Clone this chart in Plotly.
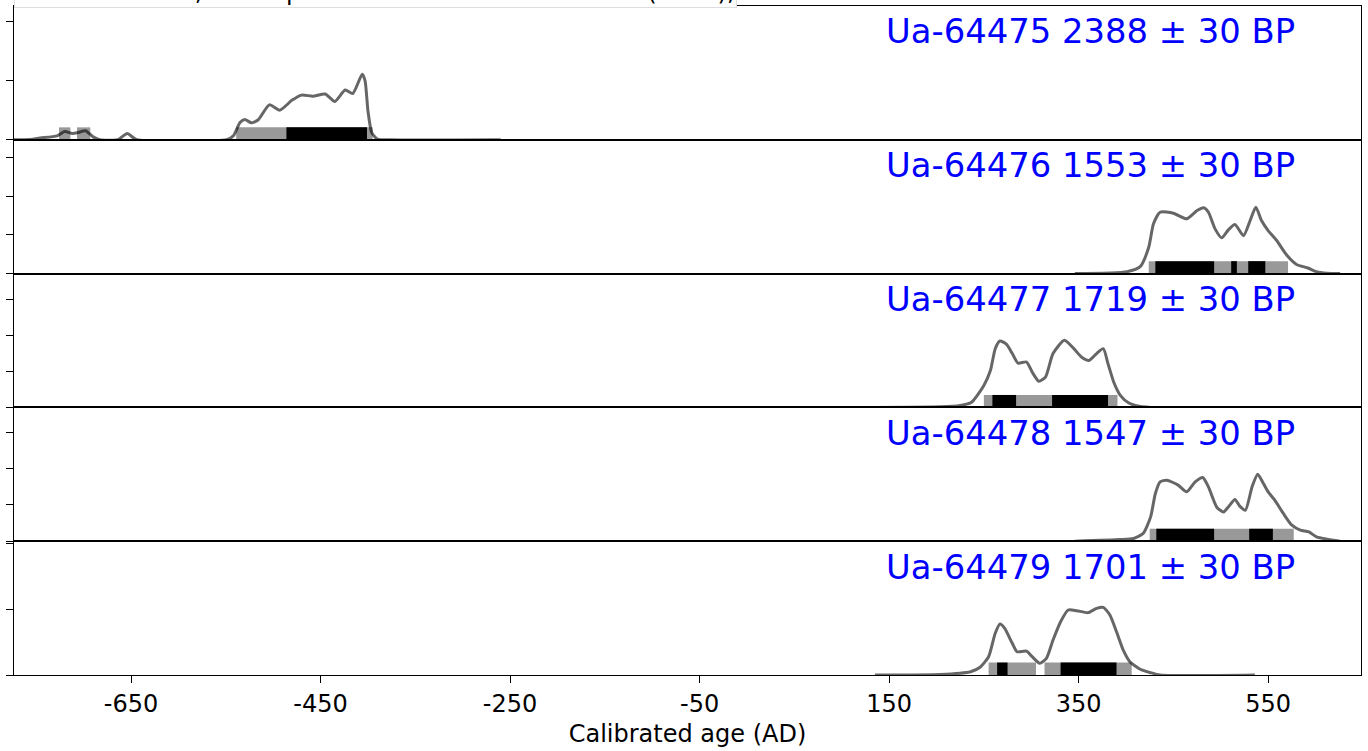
import plotly.graph_objects as go
from plotly.subplots import make_subplots

# ---- calibrated age distributions (calendar year AD, probability density) ----
LABELS = [
    "Ua-64475 2388 ± 30 BP",
    "Ua-64476 1553 ± 30 BP",
    "Ua-64477 1719 ± 30 BP",
    "Ua-64478 1547 ± 30 BP",
    "Ua-64479 1701 ± 30 BP",
]

ua64475_years = [-800, -773, -757, -746, -728, -720, -712, -706, -698, -690, -683, -664,
                 -654, -644, -549, -542, -535, -530, -523, -516, -504, -493, -480, -470,
                 -458, -445, -435, -424, -416, -406, -403, -400, -396, -390, -377, -260]
ua64475_density = [0, 0, 0.00002, 0.00012, 0.00027, 0.00056, 0.00043, 0.00049, 0.00061, 0.0002,
                   0, 0, 0.00043, 0, 0, 0.00027, 0.00117, 0.00138, 0.00115, 0.00134, 0.00237,
                   0.00201, 0.00269, 0.00303, 0.00296, 0.0031, 0.0026, 0.00337, 0.00314, 0.00445,
                   0.004, 0.00197, 0.00049, 0.00005, 0, 0]
ua64475_hpd95 = [(-726, -714), (-707, -693), (-539, -395)]
ua64475_hpd68 = [(-486, -401)]

ua64476_years = [346, 401, 415, 424, 429, 436, 450, 464, 475, 482, 487, 494, 501, 508,
                 515, 524, 531, 537, 543, 550, 559, 570, 580, 592, 601, 612, 626]
ua64476_density = [0, 0.0001, 0.00036, 0.00136, 0.00257, 0.00317, 0.00312, 0.00283, 0.00326,
                   0.0034, 0.00317, 0.00231, 0.00185, 0.00226, 0.00253, 0.00196, 0.00274,
                   0.00343, 0.00274, 0.00222, 0.00171, 0.00093, 0.00047, 0.00029, 0.0001,
                   0.00002, 0]
ua64476_hpd95 = [(424, 571)]
ua64476_hpd68 = [(431, 493), (511, 517), (529, 547)]

ua64477_years = [135, 204, 225, 237, 250, 257, 262, 267, 274, 280, 286, 295, 301, 308, 315,
                 323, 335, 345, 353, 361, 369, 376, 381, 387, 394, 403, 411, 426, 531]
ua64477_density = [0, 0.00003, 0.00011, 0.00029, 0.00122, 0.00206, 0.00326, 0.00369, 0.0035,
                   0.00299, 0.00246, 0.00252, 0.00196, 0.00145, 0.00168, 0.00299, 0.00373,
                   0.00326, 0.0028, 0.00261, 0.00299, 0.00326, 0.00243, 0.00141, 0.00067,
                   0.00024, 0.00009, 0, 0]
ua64477_hpd95 = [(250, 391)]
ua64477_hpd68 = [(259, 284), (322, 381)]

ua64478_years = [346, 394, 408, 418, 426, 431, 436, 443, 455, 464, 473, 481, 487, 496, 503, 508,
                 515, 520, 526, 533, 539, 545, 550, 557, 566, 575, 584, 593, 601, 612, 626]
ua64478_density = [0, 0.00009, 0.00015, 0.00042, 0.00134, 0.00263, 0.00327, 0.00336, 0.00309,
                   0.00272, 0.00327, 0.00351, 0.00299, 0.00186, 0.00161, 0.00189, 0.0023,
                   0.00193, 0.00171, 0.00299, 0.00369, 0.00318, 0.00272, 0.00226, 0.00153,
                   0.00088, 0.00061, 0.00051, 0.00024, 0.00011, 0]
ua64478_hpd95 = [(425, 577)]
ua64478_hpd68 = [(432, 493), (530, 555)]

ua64479_years = [135, 204, 236, 246, 255, 262, 267, 272, 280, 285, 295, 301, 309, 316, 323,
                 331, 339, 348, 360, 369, 376, 383, 390, 397, 404, 415, 426, 436, 536]
ua64479_density = [0, 0.00003, 0.0002, 0.00047, 0.00111, 0.00253, 0.00309, 0.00283, 0.00192,
                   0.00141, 0.00145, 0.00111, 0.00071, 0.00101, 0.00212, 0.00323, 0.00394,
                   0.0039, 0.00378, 0.00404, 0.0041, 0.00364, 0.00262, 0.00152, 0.00081,
                   0.00035, 0.00014, 0, 0]
ua64479_hpd95 = [(255, 305), (314, 406)]
ua64479_hpd68 = [(264, 275), (331, 390)]

# per-panel density axis: tick step and upper limit
Y_DTICK = [0.004, 0.002, 0.002, 0.002, 0.004]
Y_MAX = [0.00907, 0.00691, 0.00743, 0.00737, 0.00811]

X_RANGE = [-773.5, 648]
X_TICKS = [-650, -450, -250, -50, 150, 350, 550]
X_TICKTEXT = ["-650", "-450", "-250", "-50", "150", "350", "550"]

TITLE = "IOSACal v0.4.1, Atmospheric data from Reimer et al (2013);"

samples = [
    (ua64475_years, ua64475_density, ua64475_hpd95, ua64475_hpd68),
    (ua64476_years, ua64476_density, ua64476_hpd95, ua64476_hpd68),
    (ua64477_years, ua64477_density, ua64477_hpd95, ua64477_hpd68),
    (ua64478_years, ua64478_density, ua64478_hpd95, ua64478_hpd68),
    (ua64479_years, ua64479_density, ua64479_hpd95, ua64479_hpd68),
]

FONT = "DejaVu Sans"
BAR_H = 0.093  # fraction of panel height used by the HPD bars

fig = make_subplots(rows=5, cols=1, shared_xaxes=True, vertical_spacing=0)

for i, (years, dens, hpd95, hpd68) in enumerate(samples):
    row = i + 1
    sfx = "" if i == 0 else str(row)
    xref = "x" + sfx
    yref = "y" + sfx + " domain"
    for a, b in hpd95:
        fig.add_shape(type="rect", xref=xref, yref=yref, x0=a, x1=b, y0=0, y1=BAR_H,
                      fillcolor="#999999", line=dict(width=0), layer="below")
    for a, b in hpd68:
        fig.add_shape(type="rect", xref=xref, yref=yref, x0=a, x1=b, y0=0, y1=BAR_H,
                      fillcolor="#000000", line=dict(width=0), layer="below")
    fig.add_trace(
        go.Scatter(x=years, y=dens, mode="lines",
                   line=dict(color="rgba(0,0,0,0.6)", width=3, shape="spline", smoothing=0.6),
                   hoverinfo="skip", showlegend=False),
        row=row, col=1,
    )
    fig.add_annotation(text=LABELS[i], xref="paper", yref="y" + sfx + " domain",
                       x=0.9525, y=0.806, xanchor="right", yanchor="middle", showarrow=False,
                       font=dict(family=FONT, size=33.8, color="#0000ff"))

    fig.update_yaxes(row=row, col=1, range=[0, Y_MAX[i]], tick0=0, dtick=Y_DTICK[i],
                     ticks="outside", ticklen=7, tickwidth=1.3, tickcolor="black",
                     showticklabels=False, showline=True, linecolor="black", linewidth=1.3,
                     mirror=True, showgrid=False, zeroline=False)
    fig.update_xaxes(row=row, col=1, range=X_RANGE, showline=True, linecolor="black",
                     linewidth=1.3, mirror=True, showgrid=False, zeroline=False)
    if row < 5:
        fig.update_xaxes(row=row, col=1, ticks="", showticklabels=False)
    else:
        fig.update_xaxes(row=row, col=1, ticks="outside", ticklen=7, tickwidth=1.3,
                         tickcolor="black", tickvals=X_TICKS, ticktext=X_TICKTEXT,
                         tickfont=dict(family=FONT, size=24, color="black"),
                         title=dict(text="Calibrated age (AD)",
                                    font=dict(family=FONT, size=24, color="black"),
                                    standoff=8))

fig.add_annotation(text=TITLE, xref="paper", yref="paper", x=0, y=0.997,
                   xanchor="left", yanchor="bottom", showarrow=False,
                   font=dict(family=FONT, size=24, color="black"),
                   bgcolor="white", bordercolor="#dddddd", borderwidth=1, borderpad=1)

fig.update_layout(
    width=1368, height=751,
    margin=dict(l=14, r=7, t=6, b=76),
    paper_bgcolor="white", plot_bgcolor="white",
    font=dict(family=FONT, color="black"),
)

fig.write_html("out.html")
